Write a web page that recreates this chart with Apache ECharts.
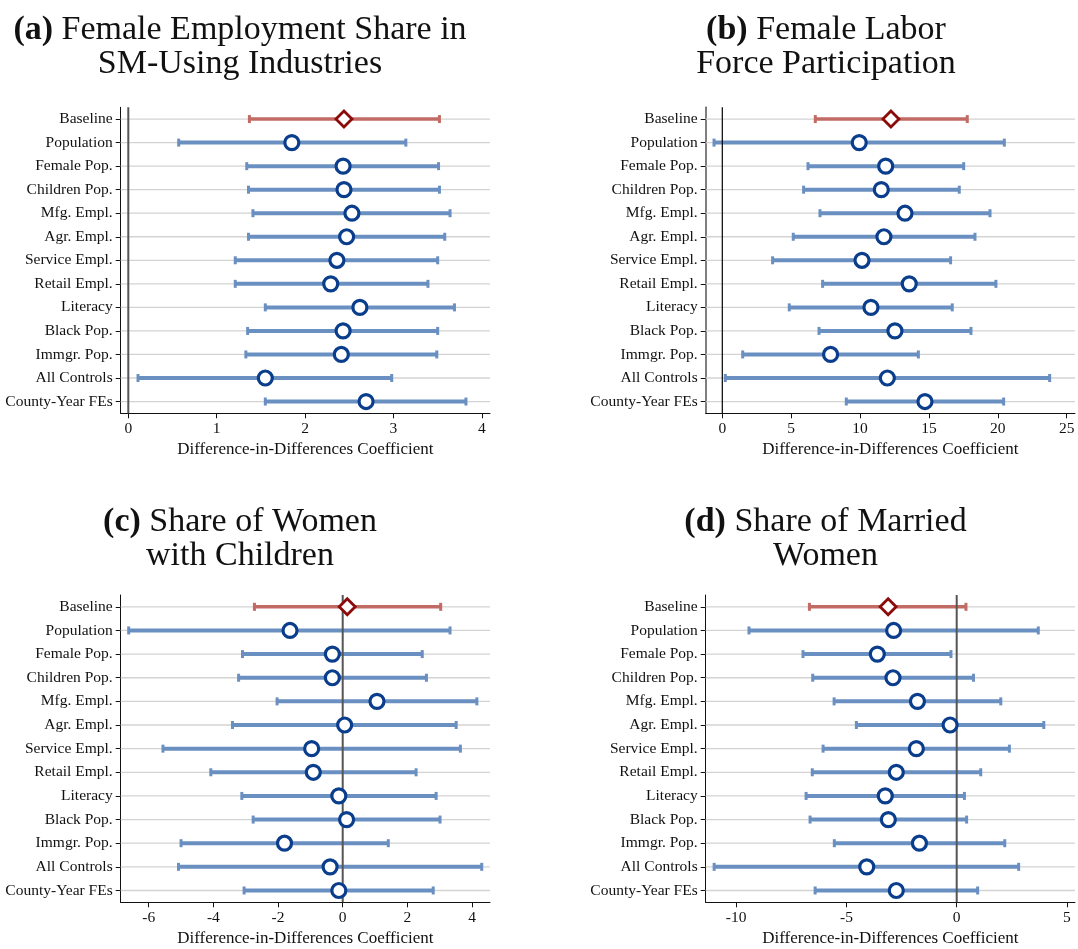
<!DOCTYPE html>
<html>
<head>
<meta charset="utf-8">
<script src="https://cdn.jsdelivr.net/npm/echarts@6/dist/echarts.min.js"></script>
<style>
html,body{margin:0;padding:0;background:#fff;}
#chart{width:1078px;height:949px;}
</style>
</head>
<body>
<div id="chart"></div>
<script>
// ---------- DATA ----------
const categories = ['Baseline','Population','Female Pop.','Children Pop.','Mfg. Empl.','Agr. Empl.','Service Empl.','Retail Empl.','Literacy','Black Pop.','Immgr. Pop.','All Controls','County-Year FEs'];

// (a) Female Employment Share in SM-Using Industries
const aCoef = [2.44, 1.85, 2.43, 2.44, 2.53, 2.47, 2.36, 2.29, 2.62, 2.43, 2.41, 1.55, 2.69];
const aLo   = [1.37, 0.57, 1.34, 1.36, 1.41, 1.36, 1.21, 1.21, 1.55, 1.35, 1.33, 0.11, 1.55];
const aHi   = [3.52, 3.14, 3.51, 3.52, 3.64, 3.58, 3.50, 3.39, 3.69, 3.50, 3.49, 2.98, 3.82];
const aTicks = [0, 1, 2, 3, 4];

// (b) Female Labor Force Participation
const bCoef = [12.24, 9.94, 11.86, 11.54, 13.26, 11.73, 10.14, 13.57, 10.79, 12.53, 7.86, 11.98, 14.71];
const bLo   = [6.75, -0.60, 6.22, 5.90, 7.09, 5.15, 3.65, 7.28, 4.86, 7.02, 1.48, 0.22, 9.00];
const bHi   = [17.78, 20.47, 17.52, 17.20, 19.43, 18.34, 16.57, 19.86, 16.69, 18.05, 14.23, 23.76, 20.42];
const bTicks = [0, 5, 10, 15, 20, 25];

// (c) Share of Women with Children
const cCoef = [0.14, -1.63, -0.32, -0.32, 1.06, 0.06, -0.96, -0.91, -0.12, 0.12, -1.80, -0.39, -0.12];
const cLo   = [-2.73, -6.62, -3.10, -3.22, -2.03, -3.41, -5.56, -4.08, -3.12, -2.77, -5.00, -5.08, -3.05];
const cHi   = [3.03, 3.32, 2.46, 2.59, 4.15, 3.51, 3.64, 2.27, 2.89, 3.01, 1.41, 4.30, 2.80];
const cTicks = [-6, -4, -2, 0, 2, 4];

// (d) Share of Married Women
const dCoef = [-3.11, -2.86, -3.60, -2.89, -1.78, -0.30, -1.83, -2.74, -3.24, -3.10, -1.69, -4.08, -2.74];
const dLo   = [-6.68, -9.42, -6.97, -6.53, -5.56, -4.55, -6.06, -6.55, -6.83, -6.65, -5.55, -11.00, -6.42];
const dHi   = [0.42, 3.70, -0.26, 0.76, 2.00, 3.95, 2.39, 1.09, 0.35, 0.45, 2.18, 2.81, 0.95];
const dTicks = [-10, -5, 0, 5];

const titles = [
  ['(a)', 'Female Employment Share in\nSM-Using Industries'],
  ['(b)', 'Female Labor\nForce Participation'],
  ['(c)', 'Share of Women\nwith Children'],
  ['(d)', 'Share of Married\nWomen']
];
const xName = 'Difference-in-Differences Coefficient';

// ---------- LAYOUT / STYLE ----------
const FONT = '"Liberation Serif", "DejaVu Serif", serif';
const panels = [
  {coef:aCoef, lo:aLo, hi:aHi, ticks:aTicks, min:-0.086, max:4.092,
   grid:{left:120.7, top:107.3, width:369.3, height:306}, titleX:240, titleY:13.5,
   zeroColor:'#555', zeroWidth:2, spine:'#111', spineW:1},
  {coef:bCoef, lo:bLo, hi:bHi, ticks:bTicks, min:-1.205, max:25.60,
   grid:{left:705.7, top:107.3, width:369.3, height:306}, titleX:826, titleY:13.5,
   zeroColor:'#000', zeroWidth:1.2, spine:'#555', spineW:1.5},
  {coef:cCoef, lo:cLo, hi:cHi, ticks:cTicks, min:-6.867, max:4.556,
   grid:{left:120.7, top:595, width:369.3, height:307.3}, titleX:240, titleY:505.5,
   zeroColor:'#555', zeroWidth:2, spine:'#111', spineW:1},
  {coef:dCoef, lo:dLo, hi:dHi, ticks:dTicks, min:-11.383, max:5.365,
   grid:{left:705.7, top:595, width:369.3, height:307.3}, titleX:825.5, titleY:505.5,
   zeroColor:'#555', zeroWidth:2, spine:'#111', spineW:1}
];

const BLUE_LINE = '#6a8fc1';
const RED_LINE = '#c26b65';
const NAVY = '#0a3d8c';
const DARKRED = '#8b0a0a';
const GRIDLINE = '#d3d3d3';

const option = {
  animation: false,
  backgroundColor: '#fff',
  title: [], grid: [], xAxis: [], yAxis: [], series: []
};

panels.forEach((p, gi) => {
  option.title.push({
    text: '{b|' + titles[gi][0] + '} ' + titles[gi][1].replace('\n', '\n{n|}'),
    left: p.titleX, top: p.titleY, textAlign: 'center', padding: 0,
    textStyle: {
      fontFamily: FONT, fontSize: 34, fontWeight: 'normal', color: '#111', lineHeight: 34,
      rich: {
        b: {fontFamily: FONT, fontSize: 34, fontWeight: 'bold', color: '#111', lineHeight: 34},
        n: {fontFamily: FONT, fontSize: 34, color: '#111', lineHeight: 34}
      }
    }
  });
  option.grid.push(Object.assign({containLabel: false}, p.grid));
  option.xAxis.push({
    type: 'value', gridIndex: gi, min: p.min, max: p.max,
    axisLine: {show: true, lineStyle: {color: '#111', width: 1}},
    axisTick: {show: true, length: 5, customValues: p.ticks, lineStyle: {color: '#111', width: 1}},
    axisLabel: {customValues: p.ticks, fontFamily: FONT, fontSize: 15.5, color: '#111', margin: 8},
    splitLine: {show: false},
    name: xName, nameLocation: 'middle', nameGap: 28,
    nameTextStyle: {fontFamily: FONT, fontSize: 17, color: '#111'}
  });
  option.yAxis.push({
    type: 'category', gridIndex: gi, data: categories, inverse: true,
    axisLine: {show: true, onZero: false, lineStyle: {color: p.spine, width: p.spineW}},
    axisTick: {show: true, alignWithLabel: true, interval: 0, length: 5, lineStyle: {color: '#111', width: 1}},
    axisLabel: {interval: 0, fontFamily: FONT, fontSize: 15.5, color: '#111', margin: 8},
    splitLine: {show: false}
  });
  // gridlines at category centres
  option.series.push({
    type: 'custom', xAxisIndex: gi, yAxisIndex: gi, z: 1, silent: true,
    data: categories.map((c, i) => [0, i]), encode: {x: 0, y: 1},
    renderItem: (params, api) => {
      const y = api.coord([0, api.value(1)])[1];
      const cs = params.coordSys;
      return {type: 'line', shape: {x1: cs.x, y1: y, x2: cs.x + cs.width, y2: y},
              style: {stroke: GRIDLINE, lineWidth: 1.3}};
    }
  });
  // confidence intervals with caps
  option.series.push({
    type: 'custom', xAxisIndex: gi, yAxisIndex: gi, z: 2, silent: true,
    data: categories.map((c, i) => [p.lo[i], p.hi[i], i]), encode: {x: [0, 1], y: 2},
    renderItem: (params, api) => {
      const i = api.value(2);
      const a = api.coord([api.value(0), i]);
      const b = api.coord([api.value(1), i]);
      const col = i === 0 ? RED_LINE : BLUE_LINE;
      const lw = i === 0 ? 3.5 : 4;
      return {type: 'group', children: [
        {type: 'line', shape: {x1: a[0], y1: a[1], x2: b[0], y2: b[1]}, style: {stroke: col, lineWidth: lw}},
        {type: 'line', shape: {x1: a[0], y1: a[1] - 4, x2: a[0], y2: a[1] + 4}, style: {stroke: col, lineWidth: 3}},
        {type: 'line', shape: {x1: b[0], y1: b[1] - 4, x2: b[0], y2: b[1] + 4}, style: {stroke: col, lineWidth: 3}}
      ]};
    }
  });
  // zero reference line
  option.series.push({
    type: 'custom', xAxisIndex: gi, yAxisIndex: gi, z: 3, silent: true,
    data: [[0, 0]], encode: {x: 0, y: 1},
    renderItem: (params, api) => {
      const x = api.coord([api.value(0), 0])[0];
      const cs = params.coordSys;
      return {type: 'line', shape: {x1: x, y1: cs.y, x2: x, y2: cs.y + cs.height},
              style: {stroke: p.zeroColor, lineWidth: p.zeroWidth}};
    }
  });
  // baseline diamond
  option.series.push({
    type: 'scatter', xAxisIndex: gi, yAxisIndex: gi, z: 4, silent: true,
    symbol: 'diamond', symbolSize: [16, 16],
    itemStyle: {color: '#fff', borderColor: DARKRED, borderWidth: 2.8, opacity: 1},
    data: [[p.coef[0], 0]]
  });
  // other estimates
  option.series.push({
    type: 'scatter', xAxisIndex: gi, yAxisIndex: gi, z: 4, silent: true,
    symbol: 'circle', symbolSize: 14,
    itemStyle: {color: '#fff', borderColor: NAVY, borderWidth: 3.2, opacity: 1},
    data: p.coef.slice(1).map((v, k) => [v, k + 1])
  });
});

const chart = echarts.init(document.getElementById('chart'), null, {renderer: 'canvas'});
chart.setOption(option);
</script>
</body>
</html>
